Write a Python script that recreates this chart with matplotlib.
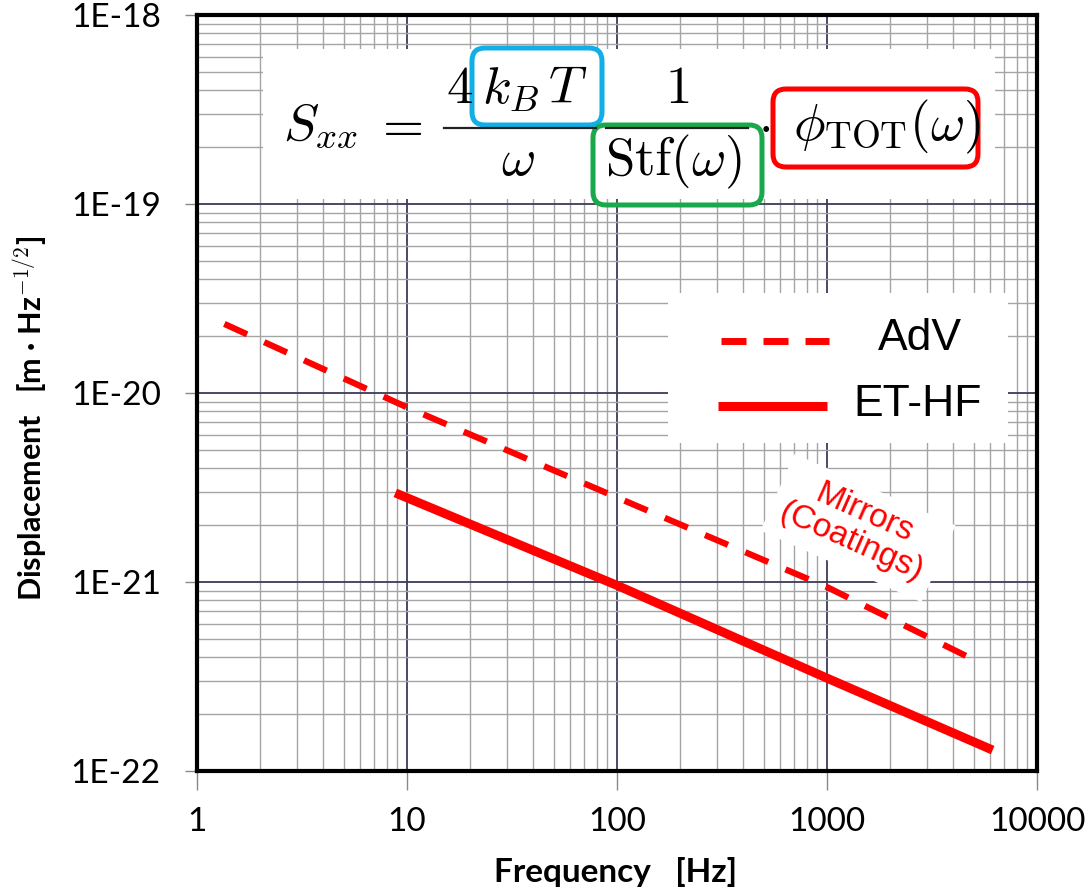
import numpy as np
import matplotlib.pyplot as plt
from matplotlib.patches import FancyBboxPatch, Rectangle
from matplotlib.ticker import LogLocator, NullFormatter

plt.rcParams['mathtext.fontset'] = 'cm'
plt.rcParams['font.family'] = ['Lato', 'DejaVu Sans']

# values
adv_freq = [1.35, 10, 100, 1000, 4950]
adv_disp = [2.32e-20, 8.4e-21, 2.8e-21, 9.4e-22, 3.9e-22]
et_freq = [8.8, 100, 1000, 6150]
et_disp = [2.96e-21, 9.6e-22, 3.1e-22, 1.29e-22]

x_ticks = [1, 10, 100, 1000, 10000]
x_labels = ['1', '10', '100', '1000', '10000']
y_ticks = [1e-22, 1e-21, 1e-20, 1e-19, 1e-18]
y_labels = ['1E-22', '1E-21', '1E-20', '1E-19', '1E-18']

W, H = 1086, 894
RED = '#ff0000'
fig = plt.figure(figsize=(W / 100, H / 100), dpi=100)

ax = fig.add_axes([197 / W, 1 - 771 / H, 840 / W, 756 / H])
# overlay in pixel units for the decorations (formula, legend, labels)
ov = fig.add_axes([0, 0, 1, 1])
ov.set_xlim(0, W)
ov.set_ylim(H, 0)
ov.set_axis_off()

ax.set_xscale('log')
ax.set_yscale('log')
ax.set_xlim(1, 10000)
ax.set_ylim(1e-22, 1e-18)
ax.set_xticks(x_ticks, x_labels)
ax.set_yticks(y_ticks, y_labels)
ax.xaxis.set_minor_locator(LogLocator(base=10, subs=np.arange(2, 10), numticks=50))
ax.yaxis.set_minor_locator(LogLocator(base=10, subs=np.arange(2, 10), numticks=50))
ax.xaxis.set_minor_formatter(NullFormatter())
ax.yaxis.set_minor_formatter(NullFormatter())
ax.grid(which='major', color='#3c3c5c', lw=1.3)
ax.grid(which='minor', color='#a4a4a4', lw=1.0)
ax.tick_params(axis='x', which='major', length=14, width=1, color='#888888',
               labelsize=24, pad=12)
ax.tick_params(axis='y', which='major', length=9, width=1, color='#888888',
               labelsize=24, pad=17)
ax.tick_params(which='minor', length=0)
for s in ax.spines.values():
    s.set_linewidth(3)
    s.set_color('black')
    s.set_zorder(4)

ax.plot(adv_freq, adv_disp, color=RED, lw=4.5, ls=(0, (4, 3)),
        dash_capstyle='butt', zorder=3)
ax.plot(et_freq, et_disp, color=RED, lw=6.5, solid_capstyle='butt', zorder=3)

# axis titles
ov.text(616, 872, 'Frequency   [Hz]', ha='center', va='center',
        fontsize=24, fontweight='bold')
ov.text(30, 418, 'Displacement   [m · Hz$^{\\mathsf{-1/2}}$]', ha='center',
        va='center', rotation=90, fontsize=22, fontweight='bold')

# formula box
ov.add_patch(Rectangle((263, 49), 732, 150, fc='white', ec='none'))
fs = 38
ov.text(283, 140, r'$S_{xx}$', fontsize=fs, va='baseline')
ov.text(398, 140, r'$=$', fontsize=fs, va='baseline', ha='center')
ov.text(446, 103, r'$4$', fontsize=fs, va='baseline')
ov.text(482, 103, r'$k_B\,T$', fontsize=fs, va='baseline')
ov.plot([444, 596], [128, 128], color='#222222', lw=1.6)
ov.text(518, 175, r'$\omega$', fontsize=fs, va='baseline', ha='center')
ov.text(677, 103, r'$1$', fontsize=fs, va='baseline', ha='center')
ov.plot([606, 748], [128, 128], color='#222222', lw=1.6)
ov.text(605, 175, r'$\mathrm{Stf}(\omega)$', fontsize=fs, va='baseline')
ov.text(764, 140, r'$\cdot$', fontsize=fs, va='baseline', ha='center')
ov.text(793, 140, r'$\phi_{\mathrm{TOT}}(\omega)$', fontsize=fs, va='baseline')

for (x0, y0, x1, y1), c in [((472, 48, 602, 125), '#12aee6'),
                            ((593, 125, 762, 205), '#1aa84c'),
                            ((773, 89, 978, 167), RED)]:
    ov.add_patch(FancyBboxPatch((x0, y0), x1 - x0, y1 - y0,
                                boxstyle='round,pad=0,rounding_size=13',
                                fc='none', ec=c, lw=3.6))

# legend
ov.add_patch(Rectangle((668, 293), 340, 150, fc='white', ec='none'))
ov.plot([721, 829], [341, 341], color=RED, lw=5, ls=(0, (3.6, 2.45)),
        dash_capstyle='butt')
ov.plot([718, 827], [406, 406], color=RED, lw=6.5, solid_capstyle='butt')
ov.text(920, 338, 'AdV', family='Liberation Sans', fontsize=32,
        ha='center', va='center')
ov.text(918, 405, 'ET-HF', family='Liberation Sans', fontsize=32,
        ha='center', va='center')

# annotation
ax.text(858, 528, 'Mirrors\n(Coatings)', transform=ov.transData,
        family='Liberation Sans', fontsize=24, color=RED, rotation=-24,
        ha='center', va='center', rotation_mode='anchor', linespacing=1.0,
        bbox=dict(fc='white', ec='none', pad=8), zorder=2.5)

fig.savefig('out.png', dpi=100)
